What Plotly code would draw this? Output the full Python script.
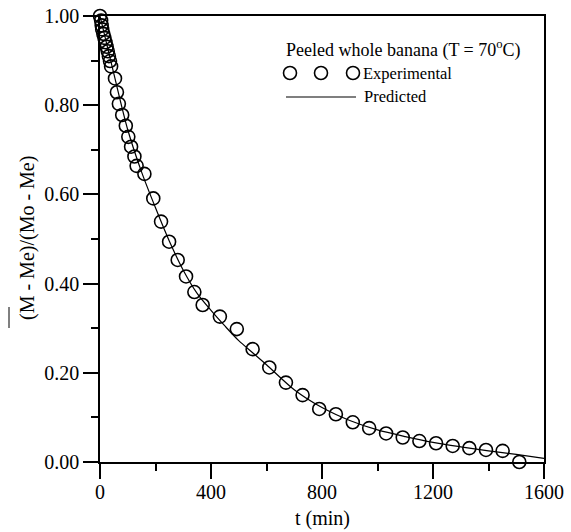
import plotly.graph_objects as go

# Experimental data (t in min, dimensionless moisture ratio)
exp_t = [0, 4, 6, 8, 12, 16, 20, 24, 28, 32, 36, 40, 54, 61, 68, 80, 93, 102, 112, 124, 132,
         160, 192, 220, 249, 280, 310, 340, 370, 432, 493, 550, 610, 670, 730, 790, 850, 911,
         970, 1031, 1091, 1151, 1211, 1271, 1331, 1391, 1451, 1511]
exp_y = [1.000, 0.990, 0.979, 0.970, 0.960, 0.951, 0.941, 0.931, 0.921, 0.910, 0.899, 0.887,
         0.860, 0.829, 0.803, 0.778, 0.754, 0.729, 0.707, 0.685, 0.664,
         0.646, 0.591, 0.539, 0.494, 0.453, 0.416, 0.381, 0.352, 0.326, 0.298, 0.253, 0.212,
         0.178, 0.150, 0.119, 0.107, 0.089, 0.076, 0.064, 0.055, 0.047, 0.042, 0.036, 0.031,
         0.027, 0.025, 0.000]

# Predicted curve
pred_t = [0, 50, 100, 150, 200, 250, 300, 350, 400, 450, 500, 550, 600, 700, 800, 900, 1000,
          1100, 1200, 1300, 1400, 1500, 1600]
pred_y = [1.0, 0.87, 0.745, 0.65, 0.57, 0.495, 0.43, 0.378, 0.34, 0.305, 0.272, 0.245, 0.218,
          0.162, 0.122, 0.093, 0.072, 0.057, 0.044, 0.034, 0.025, 0.017, 0.008]

x_ticks = [0, 400, 800, 1200, 1600]
y_ticks = [0.0, 0.2, 0.4, 0.6, 0.8, 1.0]
y_ticklabels = ["0.00", "0.20", "0.40", "0.60", "0.80", "1.00"]

FONT = "Liberation Serif"

fig = go.Figure()
fig.add_trace(go.Scatter(x=pred_t, y=pred_y, mode="lines",
                         line=dict(color="black", width=1.2, shape="spline", smoothing=0.8),
                         showlegend=False, cliponaxis=True))
fig.add_trace(go.Scatter(x=exp_t, y=exp_y, mode="markers",
                         marker=dict(symbol="circle-open", size=13, color="black",
                                     line=dict(width=1.6, color="black")),
                         showlegend=False, cliponaxis=False))

L, R, T, B = 100, 27, 16, 70
W, H = 571, 532
pw, ph = W - L - R, H - T - B

def px(x):
    return (x - L) / pw

def py(y):
    return (H - B - y) / ph

axis_common = dict(showgrid=False, zeroline=False, showline=True, linecolor="black",
                   linewidth=1.5, mirror=True, ticks="outside", ticklen=15, tickwidth=1.5,
                   tickcolor="black", automargin=False,
                   tickfont=dict(family=FONT, size=20, color="black"))

fig.update_layout(
    width=W, height=H, margin=dict(l=L, r=R, t=T, b=B),
    paper_bgcolor="white", plot_bgcolor="white",
    font=dict(family=FONT, color="black"),
    xaxis=dict(range=[0, 1600], tickvals=x_ticks, ticktext=[str(v) for v in x_ticks],
               minor=dict(dtick=200, ticklen=7, tickwidth=1.5, tickcolor="black", ticks="outside"),
               ticklabelstandoff=-4,
               **axis_common),
    yaxis=dict(range=[0, 1], tickvals=y_ticks, ticktext=y_ticklabels,
               minor=dict(dtick=0.1, ticklen=7, tickwidth=1.5, tickcolor="black", ticks="outside"),
               **axis_common),
)

# X-axis title
fig.add_annotation(x=px(322), y=py(518), xref="paper", yref="paper", text="t (min)",
                   showarrow=False, xanchor="center", yanchor="middle",
                   font=dict(family=FONT, size=20, color="black"))

# Y-axis title with overline on M
fig.add_annotation(x=px(27), y=py(238), xref="paper", yref="paper", text="(M - Me)/(Mo - Me)",
                   textangle=-90, showarrow=False, xanchor="center", yanchor="middle",
                   font=dict(family=FONT, size=20, color="black"))
fig.add_shape(type="line", xref="paper", yref="paper", x0=px(9), x1=px(9), y0=py(328), y1=py(307),
              line=dict(color="black", width=1))

# Legend drawn manually
fig.add_annotation(x=px(284), y=py(49), xref="paper", yref="paper",
                   text="Peeled whole banana (T = 70<sup>o</sup>C)", showarrow=False,
                   xanchor="left", yanchor="middle", font=dict(family=FONT, size=18, color="black"))
for cx in [290, 321, 353]:
    fig.add_shape(type="circle", xref="paper", yref="paper", xsizemode="pixel", ysizemode="pixel",
                  xanchor=px(cx), yanchor=py(73), x0=-6.5, x1=6.5, y0=-6.5, y1=6.5,
                  line=dict(color="black", width=1.6))
fig.add_annotation(x=px(361), y=py(73), xref="paper", yref="paper", text="Experimental",
                   showarrow=False, xanchor="left", yanchor="middle",
                   font=dict(family=FONT, size=16.5, color="black"))
fig.add_shape(type="line", xref="paper", yref="paper", x0=px(286), x1=px(356), y0=py(97), y1=py(97),
              line=dict(color="black", width=1.2))
fig.add_annotation(x=px(362), y=py(97), xref="paper", yref="paper", text="Predicted",
                   showarrow=False, xanchor="left", yanchor="middle",
                   font=dict(family=FONT, size=16.5, color="black"))

fig.write_html("out.html", config={"displayModeBar": False},
               post_script="document.body.style.margin='0';document.body.style.padding='0';document.body.style.overflow='hidden';")
